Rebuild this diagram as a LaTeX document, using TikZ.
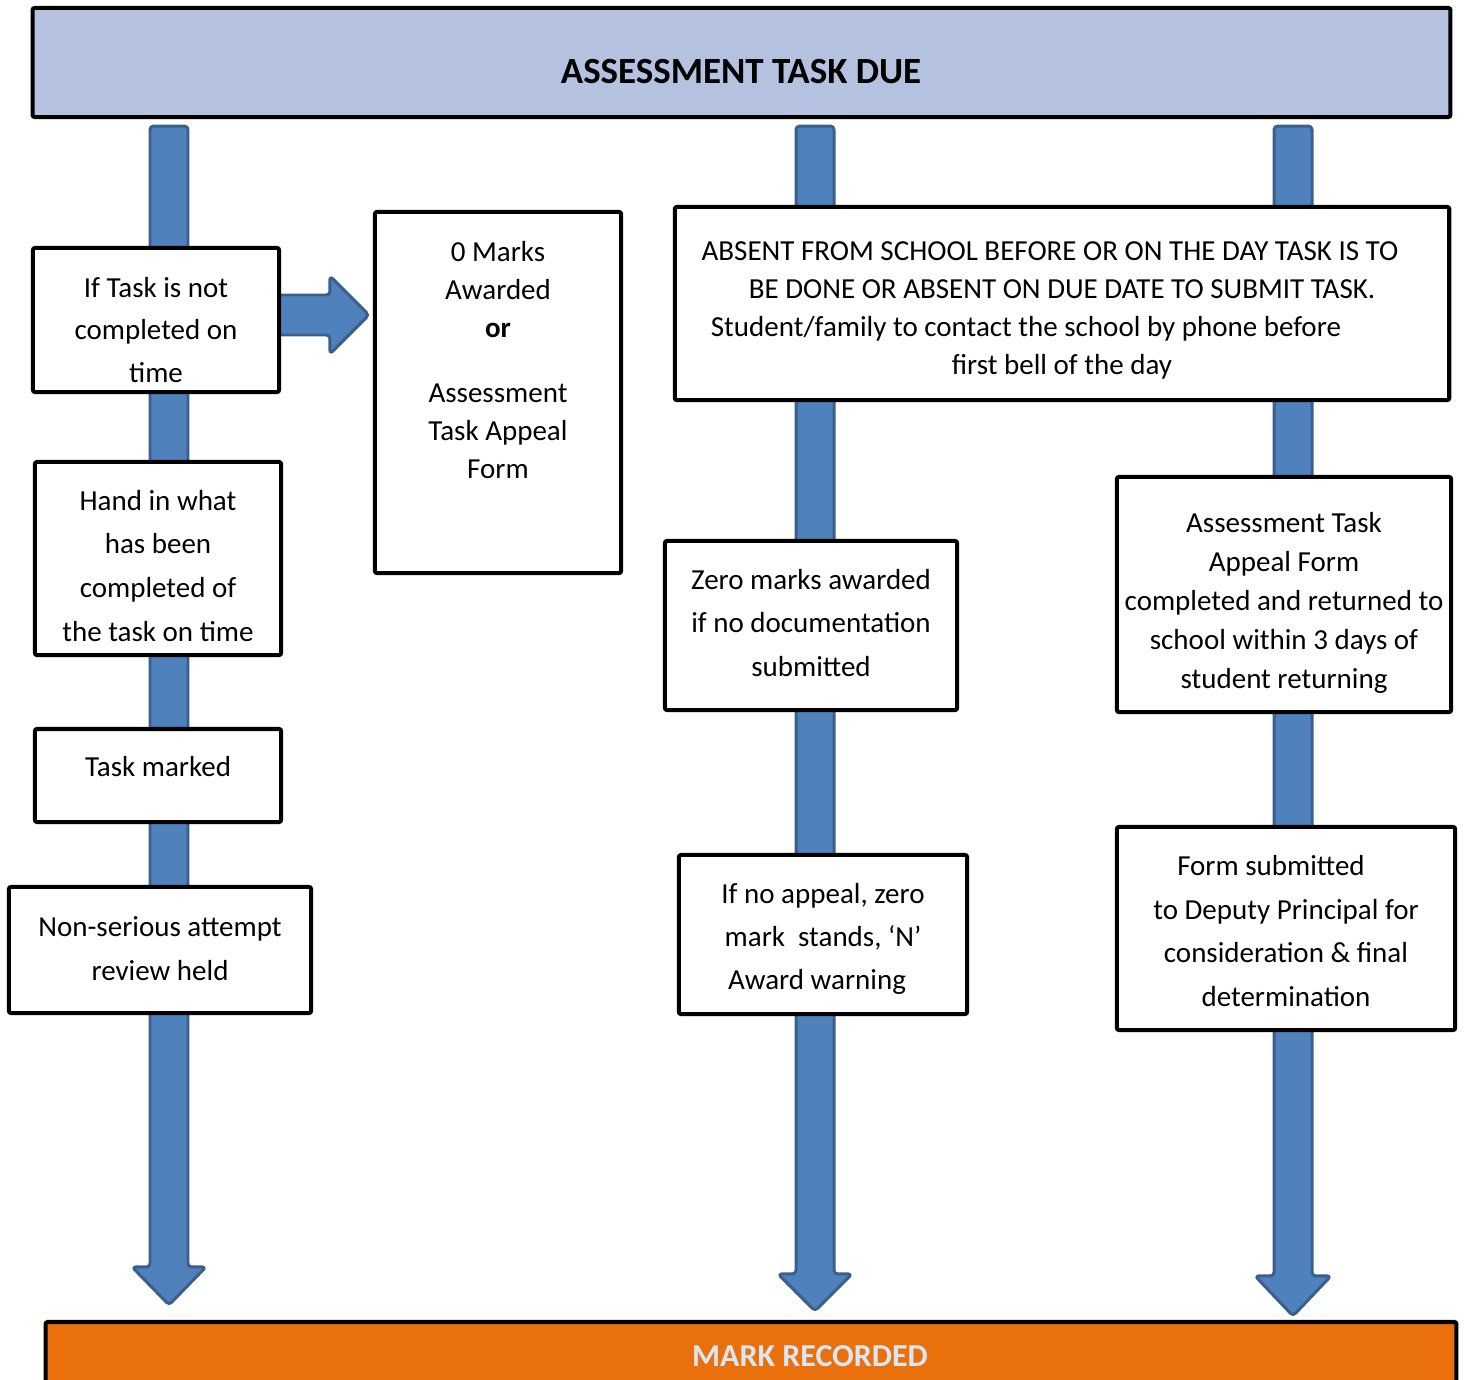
\documentclass[tikz,border=0pt]{standalone}
\usepackage{fontspec}
\setmainfont{Carlito}
\usetikzlibrary{calc,backgrounds}
\definecolor{topblue}{HTML}{B4C2E0}
\definecolor{arrfill}{HTML}{4F81BD}
\definecolor{arrline}{HTML}{3A5F8B}
\definecolor{orng}{HTML}{E9700A}
\definecolor{lighttxt}{HTML}{DCE6F2}
\begin{document}
\begin{tikzpicture}[x=0.01cm,y=-0.01cm,
  box/.style={draw=black,line width=1.15pt,fill=white,inner sep=0pt,rounded corners=0.6pt},
  txt/.style={align=center,inner sep=0pt,font=\fontsize{8.25pt}{12.2pt}\selectfont},
  blockarrow/.style={fill=arrfill,draw=arrline,line width=0.85pt,line join=round}]
\useasboundingbox (0,0) rectangle (1464,1379);

% boxes
\node[box,fill=topblue,minimum width=14.17cm,minimum height=1.09cm] (top) at (741.5,62.5) {};
\node[box,fill=orng,minimum width=14.10cm,minimum height=1.2cm] (bot) at (751,1382) {};
\node[box,minimum width=2.46cm,minimum height=1.44cm] (b1) at (156,320) {};
\node[box,minimum width=2.46cm,minimum height=3.61cm] (b2) at (498,392.5) {};
\node[box,minimum width=7.74cm,minimum height=1.93cm] (b3) at (1062,303.5) {};
\node[box,minimum width=2.46cm,minimum height=1.93cm] (b4) at (158,558.5) {};
\node[box,minimum width=2.46cm,minimum height=0.93cm] (b5) at (158,775.5) {};
\node[box,minimum width=3.02cm,minimum height=1.26cm] (b6) at (160,950) {};
\node[box,minimum width=2.92cm,minimum height=1.69cm] (b7) at (811,625.5) {};
\node[box,minimum width=2.88cm,minimum height=1.59cm] (b8) at (823,934.5) {};
\node[box,minimum width=3.34cm,minimum height=2.35cm] (b9) at (1284,594.5) {};
\node[box,minimum width=3.38cm,minimum height=2.03cm] (b10) at (1286,928.5) {};

% texts
\node[font=\bfseries\fontsize{10.5pt}{12pt}\selectfont,inner sep=0pt] (ttop) at (741,72) {ASSESSMENT TASK DUE};
\node[font=\bfseries\fontsize{9.1pt}{11pt}\selectfont,text=lighttxt,inner sep=0pt] (tbot) at (810,1356) {MARK RECORDED};
\node[txt] (t1) at (156,330) {If Task is not\\completed on\\time};
\node[txt,font=\fontsize{8.25pt}{10.8pt}\selectfont] (t2) at (498,360) {0 Marks\\Awarded\\\textbf{or}\\[7.7pt]Assessment\\Task Appeal\\Form};
\node[txt,font=\fontsize{8.25pt}{10.8pt}\selectfont] (t3) at (1062,310) {ABSENT FROM SCHOOL BEFORE OR ON THE DAY TASK IS TO\hspace*{0.24cm}\\BE DONE OR ABSENT ON DUE DATE TO SUBMIT TASK.\\\makebox[0pt]{\hspace*{-0.72cm}Student/family to contact the school by phone before}\\first bell of the day};
\node[txt,font=\fontsize{8.25pt}{12.5pt}\selectfont] (t4) at (158,566) {Hand in what\\has been\\completed of\\the task on time};
\node[txt] (t5) at (158,767) {Task marked};
\node[txt,font=\fontsize{8.25pt}{12.5pt}\selectfont] (t6) at (160,949) {Non-serious attempt\\review held};
\node[txt,font=\fontsize{8.25pt}{12.4pt}\selectfont] (t7) at (811,623) {Zero marks awarded\\if no documentation\\submitted};
\node[txt] (t8) at (823,939) {If no appeal, zero\\mark\ \ stands, ‘N’\\\makebox[0pt]{\hspace*{-0.12cm}Award warning}};
\node[txt,font=\fontsize{8.25pt}{11.1pt}\selectfont] (t9) at (1284,603) {Assessment Task\\Appeal Form\\completed and returned to\\school within 3 days of\\student returning};
\node[txt,font=\fontsize{8.25pt}{12.5pt}\selectfont] (t10) at (1286,931) {Form submitted\hspace*{0.3cm}\\to Deputy Principal for\\consideration \& final\\determination};

% block arrows behind the boxes
\begin{scope}[on background layer]
  \coordinate (cL) at (169,0);
  \coordinate (cM) at (815,0);
  \coordinate (cR) at (1293,0);
  % left column
  \path (top.south -| cL) ++(0,7) coordinate (L0);
  \path (bot.north -| cL) ++(0,-15) coordinate (L1);
  \draw[blockarrow,rounded corners=1pt] ($(L0)+(-19,0)$) -- ($(L0)+(19,0)$) -- ($(L1)+(19,-38)$) -- ($(L1)+(37,-38)$) -- (L1) -- ($(L1)+(-37,-38)$) -- ($(L1)+(-19,-38)$) -- cycle;
  % middle column
  \path (top.south -| cM) ++(0,7) coordinate (M0);
  \path (bot.north -| cM) ++(0,-9) coordinate (M1);
  \draw[blockarrow,rounded corners=1pt] ($(M0)+(-19,0)$) -- ($(M0)+(19,0)$) -- ($(M1)+(19,-37)$) -- ($(M1)+(37,-37)$) -- (M1) -- ($(M1)+(-37,-37)$) -- ($(M1)+(-19,-37)$) -- cycle;
  % right column
  \path (top.south -| cR) ++(0,7) coordinate (R0);
  \path (bot.north -| cR) ++(0,-4) coordinate (R1);
  \draw[blockarrow,rounded corners=1pt] ($(R0)+(-19,0)$) -- ($(R0)+(19,0)$) -- ($(R1)+(19,-40)$) -- ($(R1)+(38,-40)$) -- (R1) -- ($(R1)+(-38,-40)$) -- ($(R1)+(-19,-40)$) -- cycle;
  % right-pointing arrow from b1 to b2
  \path ($(b1.east)+(0,-5)$) coordinate (H0);
  \path (b2.west |- H0) ++(-4,0) coordinate (H1);
  \draw[blockarrow,rounded corners=1pt] ($(H0)+(-4,-20)$) -- ($(H1)+(-39,-20)$) -- ($(H1)+(-39,-39)$) -- (H1) -- ($(H1)+(-39,39)$) -- ($(H1)+(-39,20)$) -- ($(H0)+(-4,20)$) -- cycle;
\end{scope}
\end{tikzpicture}
\end{document}
